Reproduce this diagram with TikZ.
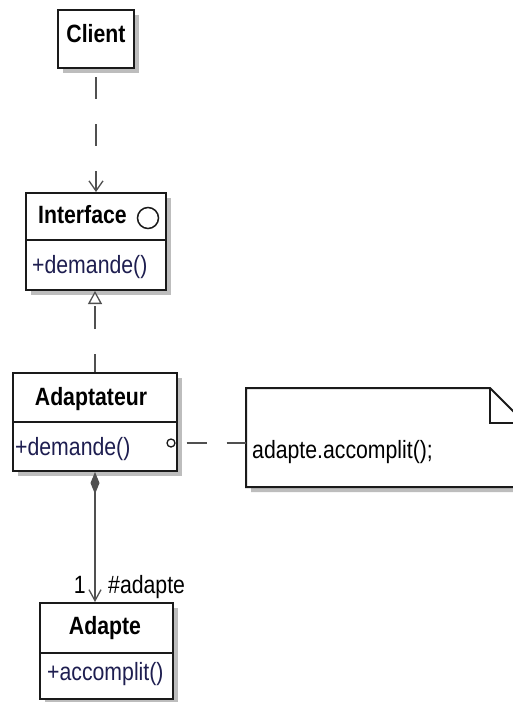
\documentclass[tikz,border=0pt]{standalone}
\usepackage{fontspec}
\setmainfont{Liberation Sans}[FakeStretch=0.85]
\usetikzlibrary{arrows.meta}
\definecolor{navy}{HTML}{1E1E50}
\definecolor{shade}{HTML}{BDBDBD}
\definecolor{edge}{HTML}{1A1A1A}
\definecolor{conn}{HTML}{505050}
\tikzset{
  box/.style={draw=edge, line width=2pt, fill=white, inner sep=0pt, rectangle},
  shadowfill/.style={fill=shade, draw=none},
  divider/.style={draw=edge, line width=2pt},
  title/.style={font=\fontsize{25}{30}\selectfont\bfseries, anchor=base, inner sep=0pt, text=black},
  member/.style={font=\fontsize{25}{30}\selectfont, anchor=base west, inner sep=0pt, text=navy},
  plain/.style={font=\fontsize{25}{30}\selectfont, inner sep=0pt, text=black},
  conn/.style={draw=conn, line width=1.3pt},
}
\begin{document}
\begin{tikzpicture}[x=1pt,y=-1pt]
\path[use as bounding box] (0,0) rectangle (512,702);
\fill[white] (0,0) rectangle (512,702);

% Client
\fill[shadowfill] (63,15) rectangle (139,73);
\node[box, minimum width=76pt, minimum height=58pt] (client) at (96,39) {};
\node[title] (clientT) at (96,42) {Client};

% Interface
\fill[shadowfill] (31,198) rectangle (171,295);
\node[box, minimum width=140pt, minimum height=97pt] (iface) at (96,241.5) {};
\draw[divider] (iface.west |- 0,240) -- (iface.east |- 0,240);
\node[title, anchor=base west] (ifaceT) at (38,223) {Interface};
\node[draw=edge, line width=1.5pt, circle, minimum size=21pt, inner sep=0pt] (ifaceC) at (148,218) {};
\node[member] (ifaceM) at (32,273) {+demande()};

% Adaptateur
\fill[shadowfill] (18,378) rectangle (182,476);
\node[box, minimum width=164pt, minimum height=98pt] (adapt) at (95,422) {};
\draw[divider] (adapt.west |- 0,422) -- (adapt.east |- 0,422);
\node[title] (adaptT) at (91,405) {Adaptateur};
\node[member] (adaptM) at (15,455) {+demande()};
\node[draw=edge, line width=1.3pt, circle, minimum size=8pt, inner sep=0pt, fill=white] (lolli) at (171,443) {};

% Adapte
\fill[shadowfill] (45,608) rectangle (178,704);
\node[box, minimum width=133pt, minimum height=96pt] (adapte) at (106.5,651) {};
\draw[divider] (adapte.west |- 0,653) -- (adapte.east |- 0,653);
\node[title] (adapteT) at (105,634) {Adapte};
\node[member] (adapteM) at (47,680) {+accomplit()};

% Note
\fill[shadowfill] (251,393) -- (495,393) -- (529,427) -- (529,492) -- (251,492) -- cycle;
\draw[edge, line width=2pt, fill=white] (246,388) -- (490,388) -- (524,422) -- (524,487) -- (246,487) -- cycle;
\draw[edge, line width=2pt] (490,388) -- (490,423) -- (524,423);
\coordinate (noteW) at (246,443);
\node[plain, anchor=base west] (noteT) at (252,458) {adapte.accomplit();};

% Connectors
\draw[conn, dash pattern=on 22pt off 25pt, dash phase=39pt,
      -{Straight Barb[length=10pt, width=14pt]}] (client.south) -- (iface.north);
\draw[conn, dash pattern=on 23pt off 25pt, dash phase=5pt,
      -{Triangle[open, length=13pt, width=14pt, fill=white]}] (adapt.north) -- (adapt.north |- iface.south);
\draw[conn, {Diamond[length=22pt, width=9pt, fill=conn]}-{Straight Barb[length=11pt, width=12pt]}]
      (adapt.south) -- (adapt.south |- adapte.north);
\draw[conn, dash pattern=on 20pt off 20pt, dash phase=29pt] (lolli.east) -- (noteW);

\node[plain, anchor=base east] (mult) at (86,593) {1};
\node[plain, anchor=base west] (role) at (108,593) {\#adapte};
\end{tikzpicture}
\end{document}
